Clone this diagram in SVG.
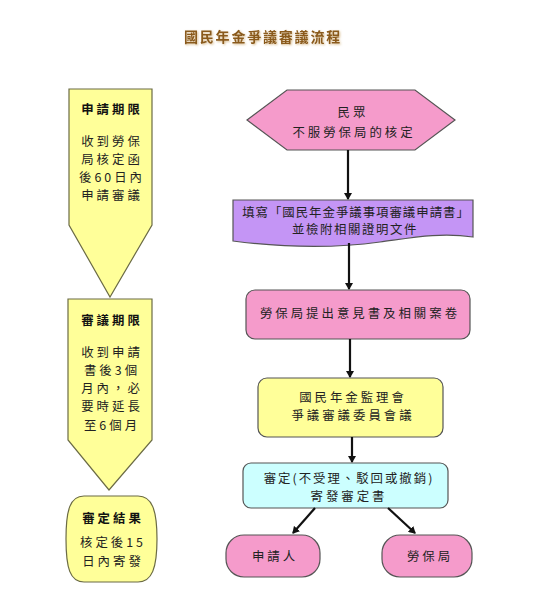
<svg xmlns="http://www.w3.org/2000/svg" width="535" height="600" viewBox="0 0 535 600">
<style>
  text { font-family: "Noto Sans CJK TC", "Noto Sans CJK SC", sans-serif; fill: #222; text-anchor: middle; }
  .t { font-size: 12.4px; letter-spacing: 3px; }
  .b { font-size: 12.4px; font-weight: bold; letter-spacing: 3px; fill: #111; }
  .yel { fill: #FFFF99; stroke: #6b6b45; stroke-width: 1.2; }
  .pink { fill: #F59BCB; stroke: #555; stroke-width: 1.2; }
  .purp { fill: #C495F5; stroke: #555; stroke-width: 1.2; }
  .cyan { fill: #CCFFFF; stroke: #555; stroke-width: 1.2; }
  .yel2 { fill: #FFFF99; stroke: #555; stroke-width: 1.2; }
  .conn line { stroke: #111; stroke-width: 2.2; marker-end: url(#ah); }
  .title { font-size: 14px; font-weight: bold; fill: #8a5a1a; letter-spacing: 1.8px; }
</style>
<defs>
  <marker id="ah" markerWidth="8" markerHeight="8" refX="6" refY="4" orient="auto" markerUnits="userSpaceOnUse">
    <path d="M0,0 L7,4 L0,8 Z" fill="#111"/>
  </marker>
  <filter id="sh" x="-10%" y="-30%" width="120%" height="160%">
    <feDropShadow dx="1" dy="1" stdDeviation="0.8" flood-color="#c8a060" flood-opacity="0.7"/>
  </filter>
</defs>
<rect width="535" height="600" fill="#ffffff"/>

<g id="title">
  <text class="title" x="263" y="42" filter="url(#sh)">國民年金爭議審議流程</text>
</g>

<g id="period-apply">
  <path class="yel" d="M69,89 H152 V225 L110,297 L69,225 Z"/>
  <text class="b" x="112" y="114">申請期限</text>
  <text class="t" x="112" y="146">收到勞保</text>
  <text class="t" x="112" y="164">局核定函</text>
  <text class="t" x="112" y="182">後60日內</text>
  <text class="t" x="112" y="200">申請審議</text>
</g>

<g id="period-review">
  <path class="yel" d="M68,299 H152 V440 L109,490 L68,440 Z"/>
  <text class="b" x="112" y="325">審議期限</text>
  <text class="t" x="112" y="357">收到申請</text>
  <text class="t" x="112" y="375">書後3個</text>
  <text class="t" x="112" y="393">月內，必</text>
  <text class="t" x="112" y="411">要時延長</text>
  <text class="t" x="112" y="430">至6個月</text>
</g>

<g id="result">
  <path class="yel" d="M84,496 L138,496 C152,496 157,510 157,539 C157,568 152,582 138,582 L84,582 C70,582 66,568 66,539 C66,510 70,496 84,496 Z"/>
  <text class="b" x="113" y="523">審定結果</text>
  <text class="t" x="113" y="547">核定後15</text>
  <text class="t" x="113" y="566">日內寄發</text>
</g>

<g id="people">
  <path class="pink" d="M247,120 L287,90 H415 L455,120 L415,150 H287 Z"/>
  <text class="t" x="353" y="117">民眾</text>
  <text class="t" x="354" y="137">不服勞保局的核定</text>
</g>

<g id="fill-form">
  <path class="purp" d="M233,200 H473 V237 C440,232 410,238 380,242 C330,249 280,247 233,241 Z"/>
  <text class="t" x="356" y="217" style="letter-spacing:1px">填寫「國民年金爭議事項審議申請書」</text>
  <text class="t" x="355" y="234" style="letter-spacing:1.6px">並檢附相關證明文件</text>
</g>

<g id="bureau-opinion">
  <rect class="pink" x="246" y="290" width="224" height="49" rx="9"/>
  <text class="t" x="360" y="318">勞保局提出意見書及相關案卷</text>
</g>

<g id="committee">
  <rect class="yel2" x="258" y="378" width="185" height="59" rx="9"/>
  <text class="t" x="353" y="402">國民年金監理會</text>
  <text class="t" x="353" y="420">爭議審議委員會議</text>
</g>

<g id="decision">
  <rect class="cyan" x="243" y="463" width="205" height="45" rx="8"/>
  <text class="t" x="349" y="483" style="letter-spacing:2px">審定(不受理、駁回或撤銷)</text>
  <text class="t" x="349" y="501">寄發審定書</text>
</g>

<g id="applicant">
  <rect class="pink" x="226" y="535" width="94" height="42" rx="18"/>
  <text class="t" x="275" y="561">申請人</text>
</g>

<g id="bureau">
  <rect class="pink" x="382" y="535" width="90" height="42" rx="18"/>
  <text class="t" x="430" y="561">勞保局</text>
</g>

<g class="conn" id="connectors">
  <line x1="348" y1="150" x2="348" y2="199"/>
  <line x1="349" y1="243" x2="349" y2="289"/>
  <line x1="350" y1="339" x2="350" y2="377"/>
  <line x1="352" y1="437" x2="352" y2="462"/>
  <line x1="315" y1="508" x2="293" y2="533"/>
  <line x1="388" y1="508" x2="415" y2="533"/>
</g>
</svg>
